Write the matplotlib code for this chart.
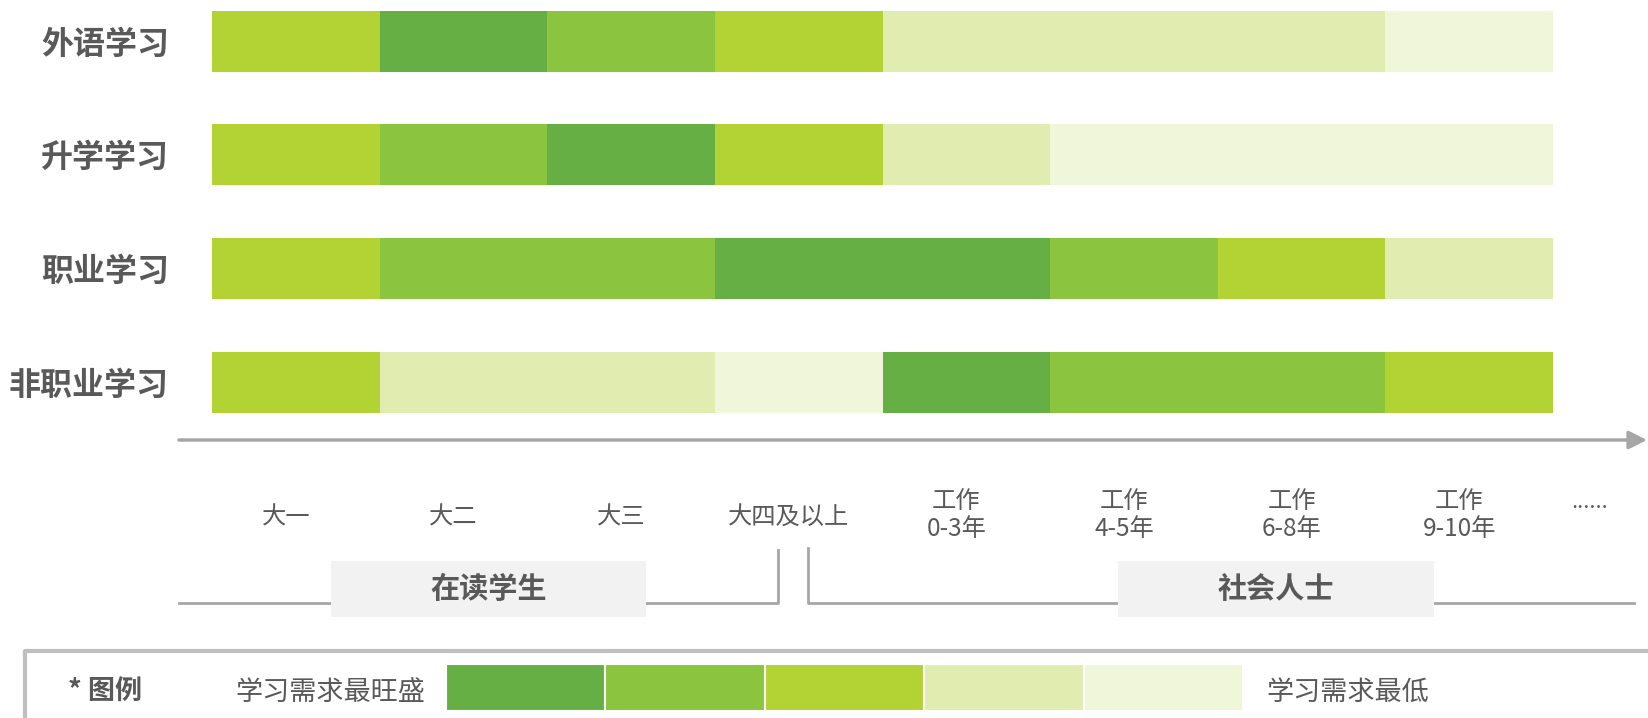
import matplotlib
matplotlib.use('Agg')
import matplotlib.pyplot as plt
import matplotlib.transforms as mtransforms
from matplotlib.patches import Rectangle

plt.rcParams['font.family'] = ['Noto Sans CJK SC', 'DejaVu Sans']

# data
topics = ['外语学习', '升学学习', '职业学习', '非职业学习']
stages = ['大一', '大二', '大三', '大四及以上',
          '工作\n0-3年', '工作\n4-5年', '工作\n6-8年', '工作\n9-10年']
# 1 = 学习需求最旺盛 ... 5 = 学习需求最低
foreign_lang = [3, 1, 2, 3, 4, 4, 4, 5]
further_edu = [3, 2, 1, 3, 4, 5, 5, 5]
career = [3, 2, 2, 1, 1, 2, 3, 4]
non_career = [3, 4, 4, 5, 1, 2, 2, 3]
groups = ['在读学生', '社会人士']
legend_levels = [1, 2, 3, 4, 5]

level_colors = {1: '#66AF45', 2: '#8BC43F', 3: '#B3D234', 4: '#E1EDB0', 5: '#F0F6D9'}
text_gray = '#595959'
line_gray = '#A6A6A6'

W, H = 1648, 718
fig = plt.figure(figsize=(W / 100, H / 100), dpi=100)

# background axes in pixel space for the decorations
bg = fig.add_axes([0, 0, 1, 1])
bg.set_xlim(0, W)
bg.set_ylim(H, 0)
bg.axis('off')

# heat strip
x0, x1, y0, y1 = 212, 1553, 10.5, 413
ax = fig.add_axes([x0 / W, 1 - y1 / H, (x1 - x0) / W, (y1 - y0) / H])
bar_h = 0.536
rows = [foreign_lang, further_edu, career, non_career]
for r, levels in enumerate(rows):
    ax.barh([r] * len(levels), [1] * len(levels), left=range(len(levels)),
            height=bar_h, color=[level_colors[v] for v in levels], linewidth=0)
ax.set_xlim(0, len(stages))
ax.set_ylim(len(topics) - 1 + bar_h / 2, -bar_h / 2)
ax.set_yticks(range(len(topics)))
ax.set_yticklabels(topics, fontsize=23, fontweight='bold', color=text_gray)
ax.tick_params(axis='y', length=0, pad=31)
ax.set_xticks([])
for s in ax.spines.values():
    s.set_visible(False)

# timeline arrow
bg.annotate('', xy=(1647, 440), xytext=(179, 440),
            arrowprops=dict(arrowstyle='-|>', color=line_gray, lw=2.5,
                            mutation_scale=27, shrinkA=0, shrinkB=0))

# stage labels, x follows the strip's data coordinates
trans = mtransforms.blended_transform_factory(ax.transData, bg.transData)
for i, lab in enumerate(stages):
    ypos = 515 if '\n' in lab else 518
    ax.text(i + 0.5 - 0.06, ypos, lab, transform=trans, ha='center', va='center',
            fontsize=17.5, color=text_gray, linespacing=1.15, clip_on=False)
ax.text(len(stages) + 0.22, 508, '......', transform=trans, ha='center',
        va='baseline', fontsize=16, color=text_gray, clip_on=False)

# group brackets
bg.plot([179, 778, 778], [603, 603, 550], color=line_gray, lw=2)
bg.plot([808, 808, 1634], [548, 603, 603], color=line_gray, lw=2)
for (bx0, bx1), name in zip([(331, 646), (1118, 1434)], groups):
    bg.add_patch(Rectangle((bx0, 561), bx1 - bx0, 56, facecolor='#F2F2F2',
                           edgecolor='none', zorder=3))
    bg.text((bx0 + bx1) / 2, 589, name, ha='center', va='center', fontsize=21,
            fontweight='bold', color=text_gray, zorder=4)

# legend frame
bg.plot([25, 25, W], [H, 651, 651], color='#BFBFBF', lw=3)
bg.text(68, 692, '* 图例', ha='left', va='center', fontsize=19.5,
        fontweight='bold', color=text_gray)
bg.text(235, 692, '学习需求最旺盛', ha='left', va='center', fontsize=19.5,
        color=text_gray)
bg.text(1266, 692, '学习需求最低', ha='left', va='center', fontsize=19.5,
        color=text_gray)

lx0, lx1, ly0, ly1 = 446, 1243, 664, 711
lax = fig.add_axes([lx0 / W, 1 - ly1 / H, (lx1 - lx0) / W, (ly1 - ly0) / H])
lax.barh([0] * len(legend_levels), [1] * len(legend_levels),
         left=range(len(legend_levels)), height=1,
         color=[level_colors[v] for v in legend_levels],
         edgecolor='white', linewidth=1.5)
lax.set_xlim(0, len(legend_levels))
lax.set_ylim(-0.5, 0.5)
lax.axis('off')

fig.savefig('out.png', dpi=100)
